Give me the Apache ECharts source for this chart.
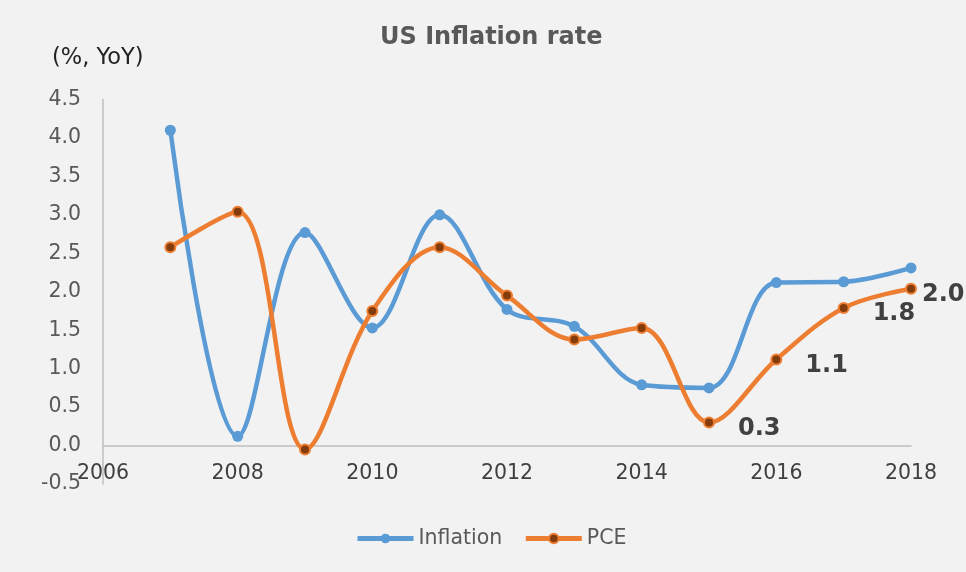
<!DOCTYPE html>
<html>
<head>
<meta charset="utf-8">
<script src="https://cdn.jsdelivr.net/npm/echarts@6/dist/echarts.min.js"></script>
<style>
  html, body { margin: 0; padding: 0; background: #f2f2f2; }
  #main { width: 966px; height: 572px; }
</style>
</head>
<body>
<div id="main"></div>
<script>
// values
var years = [2007, 2008, 2009, 2010, 2011, 2012, 2013, 2014, 2015, 2016, 2017, 2018];
var inflation = [4.1, 0.12, 2.77, 1.53, 3.0, 1.77, 1.55, 0.79, 0.75, 2.12, 2.13, 2.31];
var pce = [2.58, 3.04, -0.05, 1.75, 2.58, 1.95, 1.38, 1.53, 0.3, 1.12, 1.79, 2.04];
var xTicks = [2006, 2008, 2010, 2012, 2014, 2016, 2018];
var yTicks = [-0.5, 0, 0.5, 1, 1.5, 2, 2.5, 3, 3.5, 4, 4.5];
var labelledYears = [2015, 2016, 2017, 2018];

var font = 'DejaVu Sans';
var myChart = echarts.init(document.getElementById('main'));

var pceData = pce.map(function (v, i) {
  var item = { value: [years[i], v] };
  if (labelledYears.indexOf(years[i]) >= 0) {
    item.label = {
      show: true,
      position: 'right',
      // the last one sits tighter to its point
      offset: years[i] === 2018 ? [0, 6] : [18, 6],
      formatter: function (p) { return p.value[1].toFixed(1); },
      fontFamily: font,
      fontSize: 24,
      fontWeight: 'bold',
      color: '#404040'
    };
  }
  return item;
});

myChart.setOption({
  backgroundColor: '#f2f2f2',
  animation: false,
  title: {
    text: 'US Inflation rate',
    left: 380,
    top: 26,
    padding: 0,
    textStyle: { fontFamily: font, fontSize: 24, fontWeight: 'bold', color: '#595959' }
  },
  graphic: [{
    type: 'text',
    left: 52,
    top: 47,
    style: { text: '(%, YoY)', fontFamily: font, fontSize: 22.5, fill: '#222222' }
  }],
  legend: {
    left: 350,
    top: 523,
    itemWidth: 56,
    itemHeight: 12,
    itemGap: 21,
    lineStyle: { width: 5 },
    textStyle: { fontFamily: font, fontSize: 20.5, color: '#595959' },
    data: ['Inflation', 'PCE']
  },
  grid: {
    left: 103,
    right: 55,
    top: 99.5,
    bottom: 88,
    outerBoundsMode: 'none'
  },
  xAxis: {
    type: 'value',
    min: xTicks[0],
    max: xTicks[xTicks.length - 1],
    interval: xTicks[1] - xTicks[0],
    axisLine: { show: true, onZero: true, lineStyle: { color: '#bfbfbf', width: 1.5 } },
    axisTick: { show: false },
    splitLine: { show: false },
    axisLabel: {
      showMinLabel: true,
      showMaxLabel: true,
      // labels stay at the grid bottom, pull them up under the zero line
      margin: -21,
      fontFamily: font,
      fontSize: 20.5,
      color: '#404040',
      formatter: function (v) { return String(v); }
    }
  },
  yAxis: {
    type: 'value',
    min: yTicks[0],
    max: yTicks[yTicks.length - 1],
    interval: yTicks[1] - yTicks[0],
    axisLine: { show: true, lineStyle: { color: '#bfbfbf', width: 1.5 } },
    axisTick: { show: false },
    splitLine: { show: false },
    axisLabel: {
      margin: 22,
      fontFamily: font,
      fontSize: 20.5,
      color: '#595959',
      formatter: function (v) { return v.toFixed(1); }
    }
  },
  series: [
    {
      name: 'Inflation',
      type: 'line',
      smooth: 0.35,
      symbol: 'circle',
      symbolSize: 11,
      showAllSymbol: true,
      data: inflation.map(function (v, i) { return [years[i], v]; }),
      lineStyle: { color: '#5b9bd5', width: 4.5 },
      itemStyle: { color: '#5b9bd5' }
    },
    {
      name: 'PCE',
      type: 'line',
      smooth: 0.35,
      symbol: 'circle',
      symbolSize: 10,
      showAllSymbol: true,
      data: pceData,
      lineStyle: { color: '#ed7d31', width: 4.5 },
      itemStyle: { color: '#843c0c', borderColor: '#ed7d31', borderWidth: 2 }
    }
  ]
});
</script>
</body>
</html>
